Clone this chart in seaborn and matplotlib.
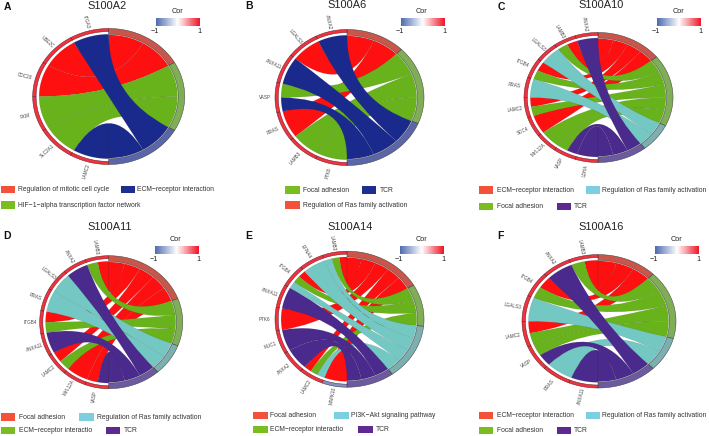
import numpy as np
import matplotlib
matplotlib.use("Agg")
import matplotlib.pyplot as plt
from matplotlib.path import Path
from matplotlib.patches import PathPatch, Rectangle
import seaborn as sns

# ---------- data ----------
A_pathways = ["Regulation of mitotic cell cycle", "HIF\u22121\u2212alpha transcription factor network", "ECM\u2212receptor interaction"]
A_genes = ["ITGA3", "UBE2C", "CDC20", "PKM", "SLC2A1", "LAMC2"]
A_links = [[2], [0], [0], [1], [1], [2]]
A_cor = [0.9, 0.9, 0.9, 0.9, 0.9, 0.9]
A_legend = [0, 2, 1]

B_pathways = ["Regulation of Ras family activation", "Focal adhesion", "TCR"]
B_genes = ["ANXA2", "LGALS3", "ANXA11", "VASP", "RRAS", "LAMB3", "PTK6"]
B_links = [[2], [0], [2], [1, 2], [0], [1], [1]]
B_cor = [0.9, 0.9, 0.9, 0.9, 0.9, 0.9, 0.9]
B_legend = [1, 2, 0]

C_pathways = ["ECM\u2212receptor interaction", "Focal adhesion", "Regulation of Ras family activation", "TCR"]
C_genes = ["ANXA2", "LAMB3", "LGALS3", "ITGB4", "RRAS", "LAMC2", "SDC4", "MYL12A", "VASP", "LDHA"]
C_links = [[3], [0, 1], [2], [0, 1], [2], [0, 1], [0], [1], [1, 3], [3]]
C_cor = [0.9] * 10
C_legend = [0, 2, 1, 3]

D_pathways = ["Focal adhesion", "ECM\u2212receptor interactio", "Regulation of Ras family activation", "TCR"]
D_genes = ["LAMB3", "ANXA2", "LGALS3", "RRAS", "ITGB4", "ANXA11", "LAMC2", "MYL12A", "VASP"]
D_links = [[0, 1], [3], [2], [2], [0, 1], [3], [0, 1], [0], [0, 3]]
D_cor = [0.9] * 9
D_legend = [0, 2, 1, 3]

E_pathways = ["Focal adhesion", "ECM\u2212receptor interactio", "PI3K\u2212Akt signaling pathway", "TCR"]
E_genes = ["LAMB3", "EFNA4", "ITGB4", "ANXA11", "PTK6", "MUC1", "ANXA2", "LAMC2", "MAPK10"]
E_links = [[0, 1, 2], [2], [0, 1, 2], [3], [0], [3], [3], [0, 1, 2], [0]]
E_cor = [0.9, 0.9, 0.9, 0.9, 0.9, 0.9, 0.9, 0.9, -0.75]
E_legend = [0, 2, 1, 3]

F_pathways = ["ECM\u2212receptor interaction", "Focal adhesion", "Regulation of Ras family activation", "TCR"]
F_genes = ["LAMB3", "ANXA2", "ITGB4", "LGALS3", "LAMC2", "VASP", "RRAS", "ANXA11"]
F_links = [[0, 1], [3], [0, 1], [2], [0, 1], [1, 3], [2], [3]]
F_cor = [0.9] * 8
F_legend = [0, 2, 1, 3]

CBAR_TICKS = ["\u22121", "1"]

# ---------- style ----------
W, H = 709, 436
sns.set_theme(style="white")
plt.rcParams["font.family"] = ["Liberation Sans", "DejaVu Sans"]
plt.rcParams["svg.fonttype"] = "none"
cor_cmap = sns.blend_palette(["#4F6DB0", "#FFFFFF", "#F01A2C"], n_colors=64, as_cmap=True)

HUES = {  # ribbon, legend, outer ring
    "red": ("#FF1010", "#F4513A", "#C9564A"),
    "green": ("#68B21C", "#79BD1F", "#80AE56"),
    "blue": ("#1A2A8C", "#1E2E8E", "#5A66A8"),
    "cyan": ("#74C8C4", "#7DCEE0", "#7CB0B0"),
    "purple": ("#4A2A8C", "#5E2A91", "#6C5AA0"),
}

PANELS = [
    dict(letter="A", title="S100A2", pw=A_pathways, genes=A_genes, links=A_links, cor=A_cor, order=A_legend,
         hues=["red", "green", "blue"], c=(108.7, 96.5), rx=(76, 76), ry=68,
         title_xy=(106.7, 6), letter_xy=(7, 7), cbar=(156, 18.3), rows=(189.5, 205),
         leg=((1, 17.7), (120.7, 137.3), (1, 17.7))),
    dict(letter="B", title="S100A6", pw=B_pathways, genes=B_genes, links=B_links, cor=B_cor, order=B_legend,
         hues=["red", "green", "blue"], c=(347, 97.5), rx=(72, 77), ry=68,
         title_xy=(347, 5), letter_xy=(248.7, 6), cbar=(401, 18.3), rows=(190, 205),
         leg=((285.3, 302.7), (362, 380), (285.3, 302.7))),
    dict(letter="C", title="S100A10", pw=C_pathways, genes=C_genes, links=C_links, cor=C_cor, order=C_legend,
         hues=["red", "green", "cyan", "purple"], c=(598, 97.5), rx=(74, 75), ry=65,
         title_xy=(601.3, 5), letter_xy=(501.3, 7), cbar=(657.3, 18.3), rows=(190, 206.7),
         leg=((479, 497), (585.7, 602.3), (479, 497), (557, 574))),
    dict(letter="D", title="S100A11", pw=D_pathways, genes=D_genes, links=D_links, cor=D_cor, order=D_legend,
         hues=["red", "green", "cyan", "purple"], c=(108.7, 322.2), rx=(69, 74), ry=66.5,
         title_xy=(109.3, 227), letter_xy=(7, 236.3), cbar=(155, 246.3), rows=(417, 430.7),
         leg=((1, 18.7), (79.3, 97.3), (1, 18.7), (106, 124))),
    dict(letter="E", title="S100A14", pw=E_pathways, genes=E_genes, links=E_links, cor=E_cor, order=E_legend,
         hues=["red", "green", "cyan", "purple"], c=(347, 319.2), rx=(72, 77), ry=68,
         title_xy=(350.3, 227), letter_xy=(248.7, 236.3), cbar=(400, 246.3), rows=(415.7, 429.7),
         leg=((253.3, 270.3), (334.3, 351), (253.3, 270.3), (358.3, 376))),
    dict(letter="F", title="S100A16", pw=F_pathways, genes=F_genes, links=F_links, cor=F_cor, order=F_legend,
         hues=["red", "green", "cyan", "purple"], c=(598, 321.3), rx=(76, 78), ry=66.7,
         title_xy=(601.3, 227), letter_xy=(500, 236.3), cbar=(655.3, 246.3), rows=(415.7, 430.3),
         leg=((479, 497), (585.7, 602.3), (479, 497), (557, 574))),
]

fig = plt.figure(figsize=(W / 100, H / 100), dpi=100)
page = fig.add_axes([0, 0, 1, 1])
page.set_xlim(0, W)
page.set_ylim(H, 0)
page.axis("off")


def left(th, r, rx, ry):
    return np.column_stack([-np.sin(th) * r * rx[0], np.cos(th) * r * ry])


def right(ph, r, rx, ry):
    return np.column_stack([np.sin(ph) * r * rx[1], np.cos(ph) * r * ry])


def band(ax, pts_out, pts_in, **kw):
    verts = np.vstack([pts_out, pts_in[::-1], pts_out[:1]])
    codes = [Path.MOVETO] + [Path.LINETO] * (len(verts) - 2) + [Path.CLOSEPOLY]
    ax.add_patch(PathPatch(Path(verts, codes), clip_on=False, **kw))


def draw_panel(p):
    cx, cy = p["c"]
    rx, ry = p["rx"], p["ry"]
    ax = fig.add_axes([(cx - rx[0]) / W, 1 - (cy + ry) / H, (rx[0] + rx[1]) / W, 2 * ry / H])
    ax.set_xlim(-rx[0], rx[1])
    ax.set_ylim(-ry, ry)
    ax.axis("off")
    ax.patch.set_alpha(0)

    n_genes = len(p["genes"])
    n_links = sum(len(l) for l in p["links"])
    gene_step = np.pi / n_genes
    unit = np.pi / n_links

    # pathway sectors on the right
    counts = [sum(k in l for l in p["links"]) for k in range(len(p["pw"]))]
    starts = np.concatenate([[0], np.cumsum(counts)]) * unit
    for k, hue in enumerate(p["hues"]):
        arc = np.linspace(starts[k], starts[k + 1], 60)
        band(ax, right(arc, 1.0, rx, ry), right(arc, 0.915, rx, ry),
             facecolor=HUES[hue][2], edgecolor="#3C3C3C", linewidth=0.35)

    # ribbons: later pathways lie over earlier ones
    used = [0] * len(p["pw"])
    for g, links in enumerate(p["links"]):
        th0 = g * gene_step
        share = gene_step / len(links)
        for j, k in enumerate(links):
            t1, t2 = th0 + j * share, th0 + (j + 1) * share
            f1 = starts[k] + used[k] * unit
            f2 = f1 + unit
            used[k] += 1
            la = left(np.linspace(t1, t2, 30), 0.915, rx, ry)
            ra = right(np.linspace(f2, f1, 30), 0.905, rx, ry)
            verts = np.vstack([la, [[0, 0]], ra[:1], ra[1:], [[0, 0]], la[:1]])
            codes = ([Path.MOVETO] + [Path.LINETO] * 29 + [Path.CURVE3, Path.CURVE3]
                     + [Path.LINETO] * 29 + [Path.CURVE3, Path.CURVE3])
            ax.add_patch(PathPatch(Path(verts, codes), facecolor=HUES[p["hues"][k]][0],
                                   edgecolor=(0.15, 0.15, 0.15, 0.25), linewidth=0.25,
                                   clip_on=False, zorder=2 + k))

    # gene ring and labels
    for g, name in enumerate(p["genes"]):
        arc = np.linspace(g * gene_step, (g + 1) * gene_step, 30)
        band(ax, left(arc, 1.0, rx, ry), left(arc, 0.955, rx, ry),
             facecolor=cor_cmap((p["cor"][g] + 1) / 2), edgecolor="#5A2020", linewidth=0.35)
        mid = (g + 0.5) * gene_step
        xy = left(np.array([mid]), 1.14, rx, ry)[0]
        rot = -np.degrees(np.arctan2(xy[1], -xy[0]))
        ax.text(xy[0], xy[1], name, fontsize=3.3, color="#444444", rotation=rot,
                ha="center", va="center", rotation_mode="anchor", clip_on=False)

    # title and letter
    page.text(*p["title_xy"], p["title"], fontsize=7.9, ha="center", va="center", color="#222222")
    page.text(*p["letter_xy"], p["letter"], fontsize=7.5, fontweight="bold", ha="center", va="center", color="#111111")

    # Cor colour bar
    bx, by = p["cbar"]
    cax = fig.add_axes([bx / W, 1 - (by + 7.7) / H, 43.5 / W, 7.7 / H])
    grad = np.linspace(-1, 1, 64)[None, :]
    sns.heatmap(grad, ax=cax, cmap=cor_cmap, vmin=-1, vmax=1, cbar=False,
                xticklabels=False, yticklabels=False)
    page.text(bx + 21, by - 6.5, "Cor", fontsize=5.2, ha="center", va="center", color="#222222")
    page.text(bx - 1, by + 12.8, CBAR_TICKS[0], fontsize=5.2, ha="center", va="center", color="#222222")
    page.text(bx + 43, by + 12.8, CBAR_TICKS[1], fontsize=5.2, ha="center", va="center", color="#222222")

    # legend
    for i, k in enumerate(p["order"]):
        rect_x, text_x = p["leg"][i]
        row = p["rows"][i // 2]
        page.add_patch(Rectangle((rect_x, row - 3.7), 14.3, 7.4, facecolor=HUES[p["hues"][k]][1],
                                 edgecolor="none"))
        page.text(text_x, row, p["pw"][k], fontsize=4.9, ha="left", va="center", color="#333333")


for panel in PANELS:
    draw_panel(panel)

fig.savefig("out.png", dpi=100)
